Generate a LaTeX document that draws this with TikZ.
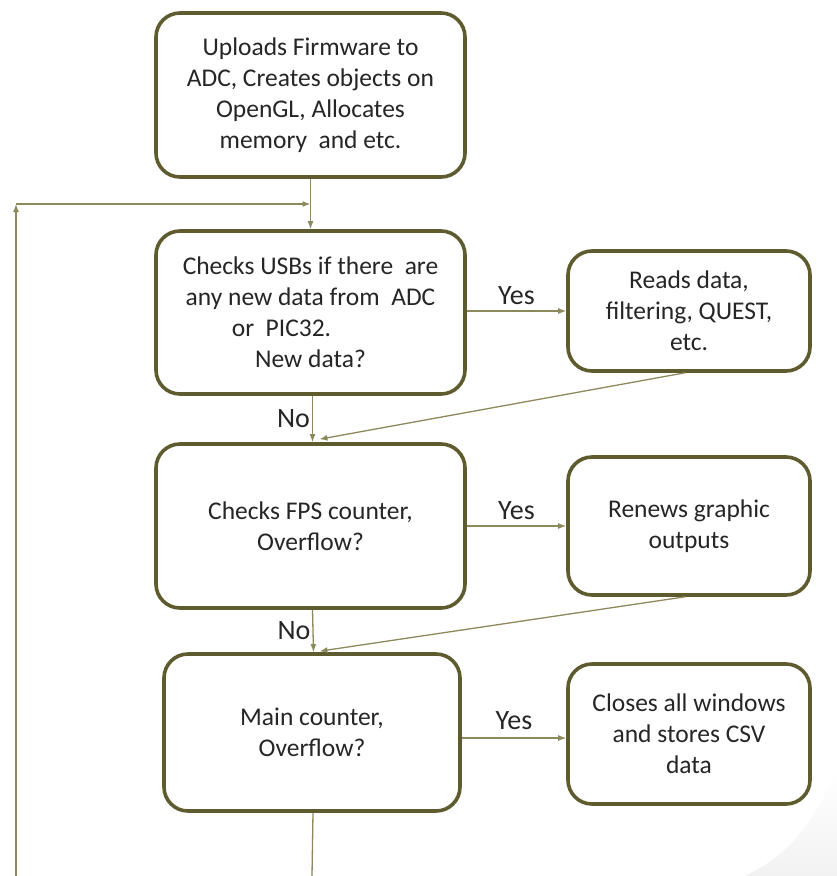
\documentclass[tikz,border=0pt]{standalone}
\usepackage{fontspec}
\setmainfont{Carlito}
\usetikzlibrary{arrows.meta,calc}
\definecolor{boxline}{HTML}{5E5B2F}
\definecolor{wire}{HTML}{8C8A5C}
\definecolor{ink}{HTML}{262626}
\begin{document}
\begin{tikzpicture}[x=1pt,y=-1pt,
  stepbox/.style={draw=boxline, line width=3.6pt, rounded corners=24pt,
    fill=white, align=center, text=ink, font=\fontsize{25.5}{31}\selectfont,
    inner sep=0pt},
  flow/.style={draw=wire, line width=1.3pt, -{Latex[length=8pt,width=6pt]}},
  plain/.style={draw=wire, line width=1.3pt},
  lbl/.style={text=ink, font=\fontsize{28}{30}\selectfont, inner sep=0pt}]
\useasboundingbox (0,0) rectangle (837,876);
\fill[white] (0,0) rectangle (837,876);
% faint page-curl shading in the lower right corner
\begin{scope}
  \clip (837,770) .. controls (815,820) and (790,855) .. (745,876) -- (837,876) -- cycle;
  \shade[left color=white, right color=black!5, shading angle=0]
    (745,770) rectangle (837,876);
\end{scope}

% process boxes
\node[stepbox, minimum width=309pt, minimum height=164pt] (init) at (310.5,95)
  {Uploads Firmware to\\ADC, Creates objects on\\OpenGL, Allocates\\memory\ \ and etc.};
\node[stepbox, minimum width=309pt, minimum height=163pt] (usb) at (310.5,312.5)
  {Checks USBs if there\ \ are\\any new data from\ \ ADC\\or\ \ PIC32.\hspace*{58pt}\null\\New data?};
\node[stepbox, minimum width=242pt, minimum height=120pt] (read) at (689,311)
  {Reads data,\\filtering, QUEST,\\etc.};
\node[stepbox, minimum width=309pt, minimum height=164pt] (fps) at (310.5,526)
  {Checks FPS counter,\\Overflow?};
\node[stepbox, minimum width=242pt, minimum height=138pt] (renew) at (689,526)
  {Renews graphic\\outputs};
\node[stepbox, minimum width=296pt, minimum height=157pt] (mainc) at (312,732.5)
  {Main counter,\\Overflow?};
\node[stepbox, minimum width=242pt, minimum height=140pt] (close) at (689,734)
  {Closes all windows\\and stores CSV\\data};

% loop-back path along the left edge
\coordinate (loopbot) at (16,876);
\coordinate (loopcorner) at (16,204);
\coordinate (joint) at (310.5,204);
\coordinate (mainend) at (312,876);

\draw[flow] (init.south) -- (usb.north);
\draw[flow] (loopbot) -- (loopcorner);
\draw[flow] (loopcorner) -- (joint);

% yes / no branches
\draw[flow] (usb.east |- 0,311) -- (read.west |- 0,311)
  node[lbl, midway, above=6pt] {Yes};
\draw[flow] ($(usb.south)+(2,0)$) -- ($(fps.north)+(2,0)$)
  node[lbl, midway, left=2pt] {No};
\draw[flow] ($(read.south)+(-4,0)$) -- ($(fps.north)+(9,-3)$);

\draw[flow] (fps.east |- 0,526) -- (renew.west |- 0,526)
  node[lbl, midway, above=6pt] {Yes};
\draw[flow] ($(fps.south)+(2,0)$) -- ($(mainc.north)+(1.5,0)$)
  node[lbl, midway, left=2pt] {No};
\draw[flow] ($(renew.south)+(-4,0)$) -- ($(mainc.north)+(7.5,-1)$);

\draw[flow] (mainc.east |- 0,738) -- (close.west |- 0,738)
  node[lbl, midway, above=8pt] {Yes};
\draw[plain] ($(mainc.south)+(1,0)$) -- (mainend);
\end{tikzpicture}
\end{document}
